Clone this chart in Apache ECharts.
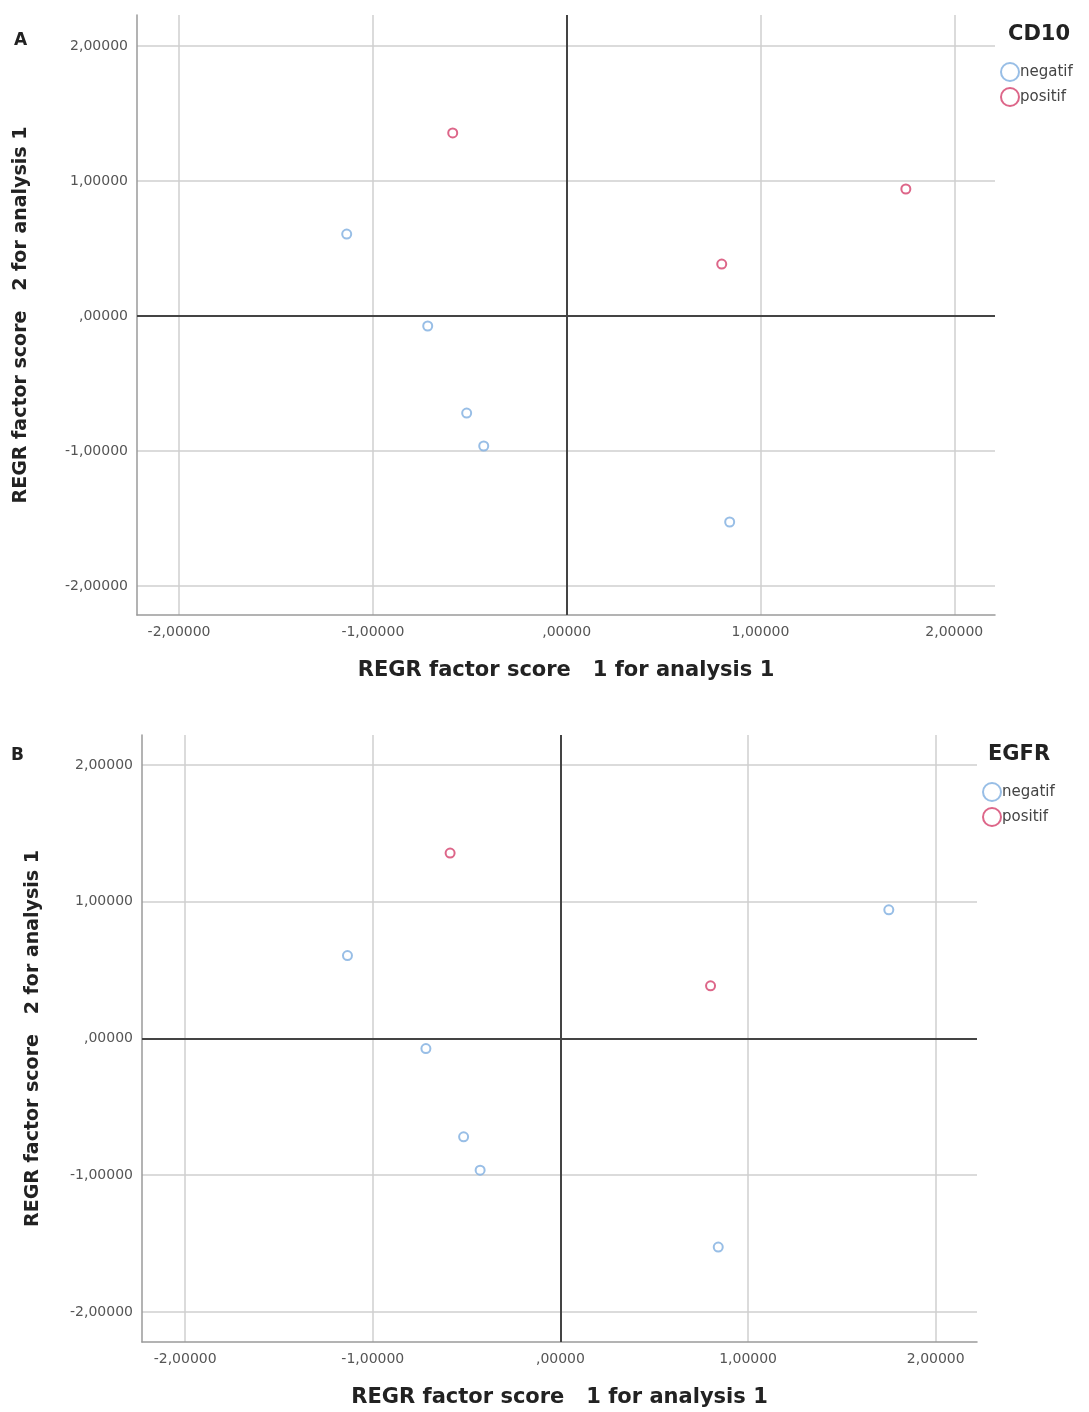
<!DOCTYPE html>
<html><head><meta charset="utf-8">
<script src="https://cdn.jsdelivr.net/npm/echarts@6/dist/echarts.min.js"></script>
<style>html,body{margin:0;padding:0;background:#fff}#c{width:1089px;height:1412px}</style>
</head><body><div id="c"></div>
<script>
const factor1 = [-0.588, -1.135, -0.717, -0.516, -0.428, 0.841, 0.800, 1.750];
const factor2 = [1.356, 0.607, -0.074, -0.719, -0.963, -1.526, 0.385, 0.941];
const cd10Group = ['positif','negatif','negatif','negatif','negatif','negatif','positif','positif'];
const egfrGroup = ['positif','negatif','negatif','negatif','negatif','negatif','positif','negatif'];
const groups = ['negatif','positif'];
const tickValues = [-2, -1, 0, 1, 2];
const panelTitles = ['CD10', 'EGFR'];
const panelLetters = ['A', 'B'];
const xName = 'REGR factor score   1 for analysis 1';
const yName = 'REGR factor score   2 for analysis 1';

const colors = {negatif: '#7eaee0', positif: '#d4406c'};
const font = 'DejaVu Sans, Arial, sans-serif';
function fmt(v){ let s = Math.abs(v).toFixed(5).replace('.', ','); if (s.startsWith('0,')) s = s.slice(1); return (v < 0 ? '-' : '') + s; }

const grids = [
  {left: 137, top: 15, width: 858, height: 600},
  {left: 142, top: 735, width: 835, height: 607}
];
const xRanges = [[-2.217, 2.21], [-2.23, 2.22]];
const yRanges = [[-2.215, 2.23], [-2.22, 2.22]];
const yGaps = [106, 99];
const groupSets = [cd10Group, egfrGroup];

const xAxes = [], yAxes = [], series = [], legends = [], graphics = [];
grids.forEach((g, i) => {
  const common = {
    type: 'value',
    gridIndex: i,
    nameLocation: 'middle',
    axisLine: {show: true, onZero: false, lineStyle: {color: '#9a9a9a', width: 1.5}},
    axisTick: {show: false, customValues: tickValues},
    axisLabel: {customValues: tickValues, formatter: fmt, color: '#555', fontFamily: font, fontSize: 14},
    splitLine: {show: true, lineStyle: {color: '#cfcfcf', width: 1.5}}
  };
  xAxes.push(Object.assign({}, common, {min: xRanges[i][0], max: xRanges[i][1], name: xName, nameGap: 45,
    nameTextStyle: {fontFamily: font, fontSize: 21, fontWeight: 'bold', color: '#222'},
    axisLabel: Object.assign({}, common.axisLabel, {margin: 10})}));
  yAxes.push(Object.assign({}, common, {min: yRanges[i][0], max: yRanges[i][1], name: yName, nameGap: yGaps[i], nameRotate: 90,
    nameTextStyle: {fontFamily: font, fontSize: 19, fontWeight: 'bold', color: '#222'},
    axisLabel: Object.assign({}, common.axisLabel, {margin: 9})}));
  groups.forEach((grp, k) => {
    const data = [];
    factor1.forEach((x, j) => { if (groupSets[i][j] === grp) data.push([x, factor2[j]]); });
    const s = {
      type: 'scatter', name: grp, xAxisIndex: i, yAxisIndex: i,
      symbol: 'emptyCircle', symbolSize: 9,
      itemStyle: {color: colors[grp], borderColor: colors[grp], borderWidth: 2},
      data: data, z: 5
    };
    if (k === 0) {
      s.markLine = {silent: true, symbol: 'none', label: {show: false},
        lineStyle: {color: '#444', width: 2, type: 'solid'},
        data: [{xAxis: 0}, {yAxis: 0}]};
    }
    series.push(s);
  });
});

const legendTops = [57, 777];
const legendLefts = [995, 977];
const titlePos = [[1008, 24], [988, 744]];
grids.forEach((g, i) => {
  legends.push({
    orient: 'vertical', left: legendLefts[i], top: legendTops[i],
    itemWidth: 18, itemHeight: 18, itemGap: 5,
    data: groups.map(grp => ({name: grp, icon: 'emptyCircle'})),
    textStyle: {fontFamily: font, fontSize: 15, color: '#444', padding: [0,0,0,-4]},
    selectedMode: false
  });
  graphics.push({type: 'text', left: titlePos[i][0], top: titlePos[i][1],
    style: {text: panelTitles[i], font: 'bold 21px ' + font, fill: '#222'}});
});
graphics.push({type: 'text', left: 14, top: 32, style: {text: panelLetters[0], font: 'bold 17px ' + font, fill: '#222'}});
graphics.push({type: 'text', left: 11, top: 747, style: {text: panelLetters[1], font: 'bold 17px ' + font, fill: '#222'}});

const chart = echarts.init(document.getElementById('c'), null, {renderer: 'canvas'});
chart.setOption({
  animation: false,
  backgroundColor: '#fff',
  grid: grids.map(g => Object.assign({containLabel: false}, g)),
  xAxis: xAxes, yAxis: yAxes, series: series,
  legend: legends,
  graphic: graphics
});
</script></body></html>
